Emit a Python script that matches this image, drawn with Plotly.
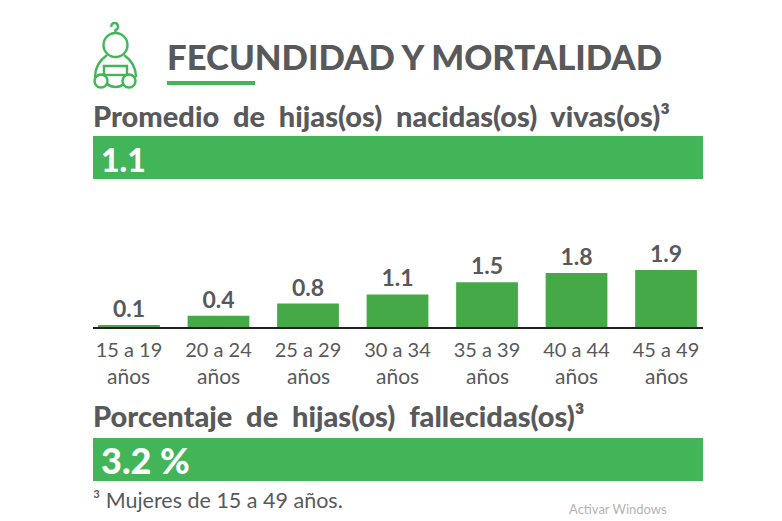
import plotly.graph_objects as go

W, H = 782, 521
categories = ["15 a 19", "20 a 24", "25 a 29", "30 a 34", "35 a 39", "40 a 44", "45 a 49"]
unit_label = "años"
values = [0.1, 0.4, 0.8, 1.1, 1.5, 1.8, 1.9]
value_labels = ["0.1", "0.4", "0.8", "1.1", "1.5", "1.8", "1.9"]
title_text = "FECUNDIDAD Y MORTALIDAD"
heading_1 = "Promedio\u00a0\u00a0de\u00a0\u00a0hijas(os)\u00a0\u00a0nacidas(os)\u00a0\u00a0vivas(os)³"
heading_2 = "Porcentaje\u00a0\u00a0de\u00a0\u00a0hijas(os)\u00a0\u00a0fallecidas(os)³"
band_1 = "1.1"
band_2 = "3.2 %"
footnote = "³ Mujeres de 15 a 49 años."
watermark = "Activar Windows"

GREY = "#58595b"
GREEN = "#41b558"
BAR = "#46a947"
FONT = "Lato"


def fx(x):
    return x / W


def fy(y):
    return 1 - y / H


def rect(x0, y0, x1, y1, color):
    return dict(type="rect", xref="paper", yref="paper", x0=fx(x0), x1=fx(x1),
                y0=fy(y1), y1=fy(y0), fillcolor=color, line_width=0, layer="below")


def ring(cx, cy, r):
    return dict(type="circle", xref="paper", yref="paper", x0=fx(cx - r), x1=fx(cx + r),
                y0=fy(cy + r), y1=fy(cy - r), line=dict(color=GREEN, width=2.4), fillcolor="white")


def path(d):
    out = []
    for tok in d:
        if isinstance(tok, str):
            out.append(tok)
        else:
            out.append(f"{fx(tok[0]):.5f},{fy(tok[1]):.5f}")
    return dict(type="path", xref="paper", yref="paper", path=" ".join(out),
                line=dict(color=GREEN, width=2.4))


def text(x, y, s, size, color=GREY, anchor="left", weight=400):
    return dict(xref="paper", yref="paper", x=fx(x), y=fy(y), text=s, showarrow=False,
                xanchor=anchor, yanchor="middle", align="left",
                font=dict(family=FONT, size=size, color=color, weight=weight))


fig = go.Figure(go.Bar(x=list(range(len(values))), y=values, text=value_labels,
                       textposition="outside", cliponaxis=False, width=0.69,
                       marker=dict(color=BAR, line_width=0),
                       textfont=dict(family=FONT, size=23, color=GREY, weight=700)))

shapes = [
    rect(167, 81, 255, 85, GREEN),
    rect(93, 136, 703, 179, GREEN),
    rect(93, 438, 703, 481, GREEN),
    # baby icon
    path(["M", (115.5, 33), "L", (115.5, 30), "C", (119, 29), (119, 23), (114.5, 23),
          "C", (112, 23), (111, 25), (111.5, 27)]),
    path(["M", (107, 55), "C", (100, 60), (95, 68), (95, 77)]),
    path(["M", (124, 55), "C", (131, 60), (136, 68), (136, 77)]),
    path(["M", (104, 66), "L", (127, 66), "L", (127, 76), "C", (126, 84), (122, 87), (115.5, 87),
          "C", (109, 87), (105, 84), (104, 76), "Z"]),
    path(["M", (104, 75), "L", (127, 75)]),
    ring(115.5, 45, 12),
    ring(101, 81, 6.5),
    ring(129, 81, 6.5),
]

annotations = [
    text(165, 56.5, title_text, 34.7, weight=900),
    text(91, 116, heading_1, 29, weight=900),
    text(91, 415, heading_2, 29, weight=900),
    text(99, 159, band_1, 32, color="white", weight=900),
    text(99, 460, band_2, 36, color="white", weight=900),
    text(91, 500, footnote, 21.5),
    text(567, 509, watermark, 13, color="#b4b4b4"),
]
for i, _ in enumerate(categories):
    annotations.append(dict(xref="x", yref="paper", x=i, y=fy(375), text=unit_label,
                            showarrow=False, xanchor="center", yanchor="middle", borderpad=0,
                            font=dict(family=FONT, size=21, color=GREY)))

fig.update_layout(
    width=W, height=H, autosize=False, showlegend=False,
    margin=dict(l=0, r=0, t=0, b=0),
    paper_bgcolor="white", plot_bgcolor="white",
    shapes=shapes, annotations=annotations,
    xaxis=dict(domain=[fx(93), fx(703)], range=[-0.402, 6.413],
               tickmode="array", tickvals=list(range(len(values))), ticktext=categories,
               showgrid=False, zeroline=False, showline=False, ticks="", ticklabelstandoff=8,
               tickfont=dict(family=FONT, size=20, color=GREY)),
    yaxis=dict(domain=[fy(328), fy(240)], range=[0, 88 / 30.5], visible=False,
               showgrid=False, zeroline=False),
)
fig.add_shape(type="line", xref="x domain", yref="paper", x0=0, x1=1, y0=fy(328), y1=fy(328),
              line=dict(color="#231f20", width=2))
fig.write_html("out.html", config=dict(displayModeBar=False),
               post_script="document.body.style.margin='0';")
